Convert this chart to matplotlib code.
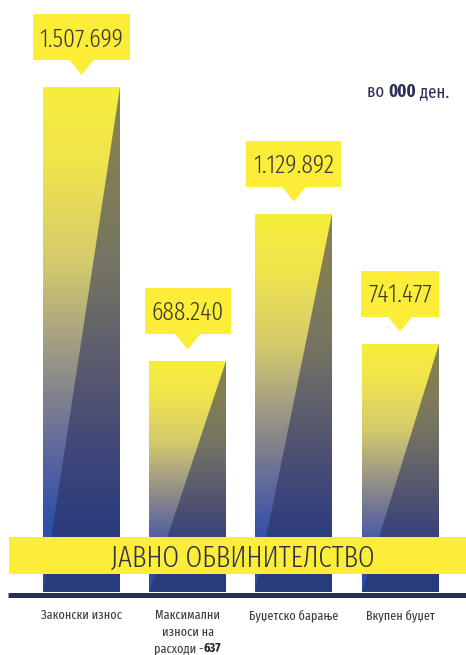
import matplotlib
matplotlib.use("Agg")
import numpy as np
import matplotlib.pyplot as plt
from matplotlib import font_manager as fm
from matplotlib import transforms as mtransforms
from matplotlib.patches import Rectangle, Polygon
from matplotlib.lines import Line2D
from matplotlib.colors import LinearSegmentedColormap

# ---------------- data ----------------
categories = ["Законски износ", "Максимални\nизноси на\nрасходи -637", "Буџетско барање", "Вкупен буџет"]
values = [1507699, 688240, 1129892, 741477]
value_labels = ["1.507.699", "688.240", "1.129.892", "741.477"]
banner_text = "ЈАВНО ОБВИНИТЕЛСТВО"
unit_pre, unit_bold, unit_post = "во ", "000", " ден."

# ---------------- fonts ----------------
avail = set(f.name for f in fm.fontManager.ttflist)
cands = ["Fira Sans Extra Condensed", "Roboto Condensed", "PT Sans Narrow"]
FONT = next((c for c in cands if c in avail), "DejaVu Sans")
STRETCH = "condensed" if FONT == "DejaVu Sans" else "normal"
fam = [FONT, "DejaVu Sans"]

W, H = 466, 655
fig = plt.figure(figsize=(W / 100, H / 100), dpi=100)
fig.patch.set_facecolor("white")

# axes placement (pixels)
ax_left, ax_right = 28.4, 453.2
base_px = 592  # from top
ax = fig.add_axes([ax_left / W, 1 - base_px / H, (ax_right - ax_left) / W, base_px / H])
ax.axis("off")

x = np.arange(len(values))
bw = 0.725

cmap = LinearSegmentedColormap.from_list("yb", [
    (0.00, (247 / 255, 238 / 255, 58 / 255)),
    (0.15, (240 / 255, 228 / 255, 78 / 255)),
    (0.35, (212 / 255, 202 / 255, 108 / 255)),
    (0.50, (165 / 255, 160 / 255, 130 / 255)),
    (0.62, (128 / 255, 128 / 255, 142 / 255)),
    (0.73, (92 / 255, 102 / 255, 160 / 255)),
    (0.82, (62 / 255, 86 / 255, 166 / 255)),
    (0.87, (46 / 255, 80 / 255, 170 / 255)),
    (1.00, (42 / 255, 76 / 255, 166 / 255)),
])
grad = np.linspace(0, 1, 256).reshape(-1, 1)

bars = ax.bar(x, values, width=bw, color="none", edgecolor="none", zorder=2)
for xi, v, b in zip(x, values, bars):
    im = ax.imshow(grad, cmap=cmap, vmin=0, vmax=1, aspect="auto", origin="upper",
                   extent=(xi - bw / 2, xi + bw / 2, 0, v), interpolation="bilinear", zorder=1)
    im.set_clip_path(b)
    tri = Polygon([(xi + bw / 2, v), (xi + bw / 2, 0), (xi - bw / 2, 0)], closed=True,
                  facecolor=(40 / 255, 45 / 255, 90 / 255), alpha=0.55, edgecolor="none", zorder=3)
    ax.add_patch(tri)
ax.set_xlim(-0.5, 3.5)
ax.set_ylim(0, 1767444)

renderer = fig.canvas.get_renderer()
yellow = "#fbed38"

# value callouts
box_bottom, box_h, tip_off, half_w = 27, 46, 12, 13
for xi, v, lab in zip(x, values, value_labels):
    anchor = mtransforms.ScaledTranslation(xi, v, ax.transData)
    pix = mtransforms.Affine2D() + anchor
    t = ax.text(0, box_bottom + box_h / 2 - 9, lab, transform=pix, ha="center", va="baseline",
                fontsize=18.5, family=fam, stretch=STRETCH, weight=300, color="#3a3a3c",
                zorder=6, clip_on=False)
    tw = t.get_window_extent(renderer).width
    bwp = tw + 14
    rect = Rectangle((-bwp / 2, box_bottom), bwp, box_h, transform=pix, facecolor=yellow,
                     edgecolor="none", zorder=5, clip_on=False)
    ax.add_patch(rect)
    ptr = Polygon([(-half_w, box_bottom + 1), (half_w, box_bottom + 1), (0, tip_off)], closed=True,
                  transform=pix, facecolor=yellow, edgecolor="none", zorder=5, clip_on=False)
    ax.add_patch(ptr)

# banner across bars
fig.add_artist(Rectangle((9 / W, 1 - 574 / H), 1 - 9 / W, 37 / H, transform=fig.transFigure,
                         facecolor=yellow, edgecolor="none", zorder=5))
fig.text(243 / W, 1 - 566.5 / H, banner_text, ha="center", va="baseline", fontsize=21,
         family=fam, stretch=STRETCH, weight=300, color="#2e2f4b", zorder=6)

# baseline
fig.add_artist(Line2D([8 / W, 1], [1 - 594.5 / H] * 2, transform=fig.transFigure,
                      color="#2a2d52", lw=3.6, solid_capstyle="butt", zorder=5))

# category labels
blend = mtransforms.blended_transform_factory(ax.transData, fig.transFigure)
pixfig = mtransforms.blended_transform_factory(mtransforms.IdentityTransform(), fig.transFigure)
line_y = [619, 636, 652.5]
cat_fs = 9.5
for xi, cat in zip(x, categories):
    lines = cat.split("\n")
    for k, ln in enumerate(lines):
        yy = 1 - line_y[k] / H
        if ln.endswith("-637"):
            pre, bold = ln[:-3], ln[-3:]
            t1 = ax.text(0, yy, pre, transform=pixfig, ha="left", va="baseline", fontsize=cat_fs,
                         family=fam, stretch=STRETCH, color="#3a3a3c", clip_on=False)
            t2 = ax.text(0, yy, bold, transform=pixfig, ha="left", va="baseline", fontsize=cat_fs,
                         family=fam, stretch=STRETCH, weight="bold", color="#2a2a2e", clip_on=False)
            w1 = t1.get_window_extent(renderer).width
            w2 = t2.get_window_extent(renderer).width
            cx = ax.transData.transform((xi, 0))[0]
            start = cx - (w1 + w2) / 2
            t1.set_x(start)
            t2.set_x(start + w1)
        else:
            ax.text(xi, yy, ln, transform=blend, ha="center", va="baseline", fontsize=cat_fs,
                    family=fam, stretch=STRETCH, color="#3a3a3c", clip_on=False)

# unit note
u_fs = 13
u1 = fig.text(0, 0, unit_pre, fontsize=u_fs, family=fam, stretch=STRETCH, color="#2b2f5a")
u2 = fig.text(0, 0, unit_bold, fontsize=u_fs, family=fam, stretch=STRETCH, weight="bold", color="#2b2f5a")
u3 = fig.text(0, 0, unit_post, fontsize=u_fs, family=fam, stretch=STRETCH, color="#2b2f5a")
ws = [u.get_window_extent(renderer).width for u in (u1, u2, u3)]
ux = 367
for u, w_ in zip((u1, u2, u3), ws):
    u.set_position((ux / W, 1 - 97 / H))
    u.set_va("baseline")
    ux += w_

fig.savefig("out.png", dpi=100, facecolor="white")
